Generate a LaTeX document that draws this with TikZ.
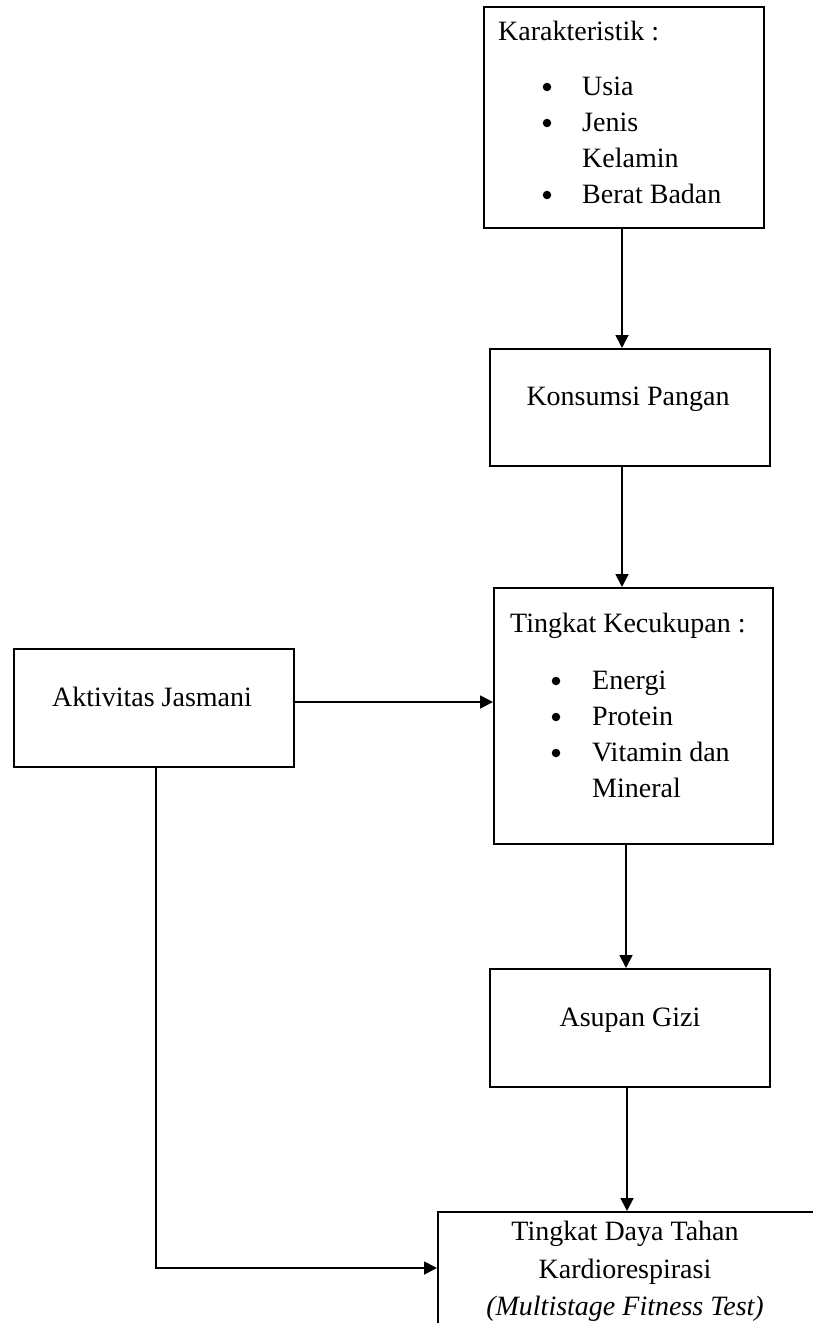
\documentclass[tikz,border=0pt]{standalone}
\usepackage{fontspec}
\setmainfont{Liberation Serif}
\usetikzlibrary{arrows.meta}
\begin{document}
\begin{tikzpicture}[x=1pt,y=1pt,
  box/.style={draw, line width=2pt, inner sep=0pt, anchor=north west},
  txt/.style={inner sep=0pt, anchor=base west, font=\fontsize{28}{37}\selectfont},
  ctxt/.style={inner sep=0pt, anchor=base, font=\fontsize{28}{37}\selectfont},
  bul/.style={circle, fill, inner sep=0pt, minimum size=8.5pt},
  arr/.style={line width=1.8pt, -{Triangle[width=13pt,length=13pt]}}]
\useasboundingbox (0,0) rectangle (813,-1323);
\clip (0,0) rectangle (813,-1323);
\fill[white] (0,0) rectangle (813,-1323);

% boxes
\node[box, minimum width=280pt, minimum height=221pt] (kar) at (483,-6) {};
\node[box, minimum width=280pt, minimum height=117pt] (kp) at (489,-348) {};
\node[box, minimum width=279pt, minimum height=256pt] (tk) at (493,-587) {};
\node[box, minimum width=280pt, minimum height=118pt] (akt) at (13,-648) {};
\node[box, minimum width=280pt, minimum height=118pt] (ag) at (489,-968) {};
\node[box, minimum width=420pt, minimum height=160pt] (trt) at (437,-1211) {};

% texts: Karakteristik
\node[txt] (karT) at (498,-40) {Karakteristik :};
\node[bul] (kb1) at (547,-87) {};
\node[txt] (k1) at (582,-95) {Usia};
\node[bul] (kb2) at (547,-123) {};
\node[txt] (k2) at (582,-131) {Jenis};
\node[txt] (k3) at (582,-167) {Kelamin};
\node[bul] (kb3) at (547,-195) {};
\node[txt] (k4) at (582,-203) {Berat Badan};

% Konsumsi Pangan
\node[ctxt] (kpT) at (628,-405) {Konsumsi Pangan};

% Tingkat Kecukupan
\node[txt] (tkT) at (510,-632) {Tingkat Kecukupan :};
\node[bul] (tb1) at (556,-681) {};
\node[txt] (t1) at (592,-689) {Energi};
\node[bul] (tb2) at (556,-717) {};
\node[txt] (t2) at (592,-725) {Protein};
\node[bul] (tb3) at (556,-753) {};
\node[txt] (t3) at (592,-761) {Vitamin dan};
\node[txt] (t4) at (592,-797) {Mineral};

% Aktivitas Jasmani
\node[ctxt] (aktT) at (152,-706) {Aktivitas Jasmani};

% Asupan Gizi
\node[ctxt] (agT) at (630,-1026) {Asupan Gizi};

% Tingkat Daya Tahan
\node[ctxt] (tr1) at (625,-1240) {Tingkat Daya Tahan};
\node[ctxt] (tr2) at (625,-1278) {Kardiorespirasi};
\node[ctxt] (tr3) at (625,-1315) {\textit{(Multistage Fitness Test)}};

% connectors
\draw[arr] (kar.south -| 622,0) -- (kp.north -| 622,0);
\draw[arr] (kp.south -| 622,0) -- (tk.north -| 622,0);
\draw[arr] (tk.south -| 626,0) -- (ag.north -| 626,0);
\draw[arr] (ag.south -| 627,0) -- (trt.north -| 627,0);
\draw[arr] (akt.east |- 0,-702) -- (tk.west |- 0,-702);
\draw[arr] (akt.south -| 156,0) |- (trt.west |- 0,-1268);
\end{tikzpicture}
\end{document}
